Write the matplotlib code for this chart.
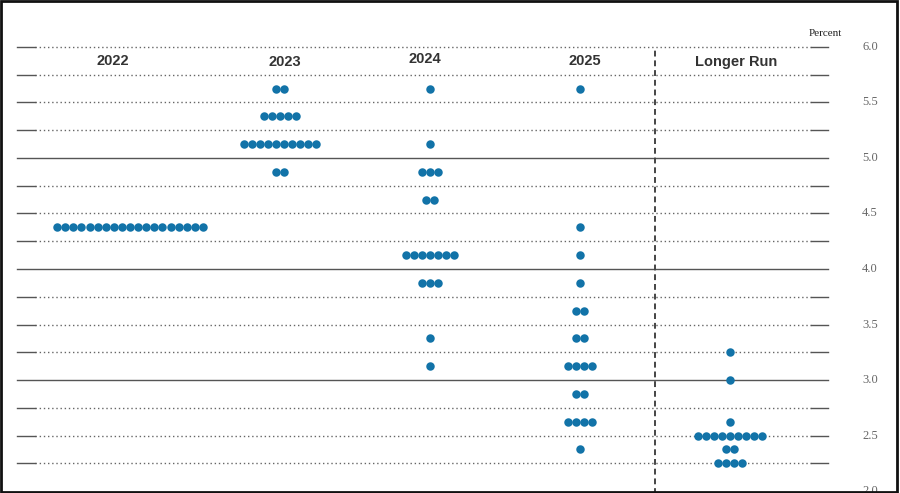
import matplotlib.pyplot as plt
from matplotlib.patches import Rectangle
import numpy as np

# columns and the (rate, count) pairs for each one
columns = ["2022", "2023", "2024", "2025", "Longer Run"]
rates_2022 = [4.375]
counts_2022 = [19]
rates_2023 = [5.625, 5.375, 5.125, 4.875]
counts_2023 = [2, 5, 10, 2]
rates_2024 = [5.625, 5.125, 4.875, 4.625, 4.125, 3.875, 3.375, 3.125]
counts_2024 = [1, 1, 3, 2, 7, 3, 1, 1]
rates_2025 = [5.625, 4.375, 4.125, 3.875, 3.625, 3.375, 3.125, 2.875, 2.625, 2.375]
counts_2025 = [1, 1, 1, 1, 2, 2, 4, 2, 4, 1]
rates_lr = [3.25, 3.0, 2.625, 2.5, 2.375, 2.25]
counts_lr = [1, 1, 1, 9, 2, 4]
tick_values = [2.0, 2.5, 3.0, 3.5, 4.0, 4.5, 5.0, 5.5, 6.0]

dots = [(rates_2022, counts_2022), (rates_2023, counts_2023),
        (rates_2024, counts_2024), (rates_2025, counts_2025),
        (rates_lr, counts_lr)]

DOT = "#1273a8"
GRID = "#555555"

fig = plt.figure(figsize=(9, 4.93), dpi=100)
ax = fig.add_axes([0, 0, 1, 1])
ax.set_xlim(-0.8667, 5.1333)
ax.set_ylim(1.982, 6.4234)
ax.axis("off")

step = 8.1 / 150  # dot spacing in column units

# horizontal guides (the 2.0 line falls off the bottom of the image)
x_l0, x_l1 = (17 - 130) / 150, (35 - 130) / 150
x_r0, x_r1 = (811 - 130) / 150, (828 - 130) / 150
for v in np.arange(2.25, 6.01, 0.25):
    if v in (3.0, 4.0, 5.0):
        ax.plot([x_l0, x_r1], [v, v], color=GRID, lw=1.0, zorder=1)
    else:
        ax.plot([x_l1, x_r0], [v, v], color="#666666", lw=1.0, ls=(0, (1, 2)), zorder=1)
        ax.plot([x_l0, x_l1], [v, v], color=GRID, lw=1.0, zorder=1)
        ax.plot([x_r0, x_r1], [v, v], color=GRID, lw=1.0, zorder=1)

# separator before the longer run
ax.plot([3.5, 3.5], [1.9, 6.0], color="#444444", lw=1.4, ls=(0, (3, 2)), zorder=1)

for i, (rates, counts) in enumerate(dots):
    for r, n in zip(rates, counts):
        xs = i + (np.arange(n) - (n - 1) / 2) * step
        ax.plot(xs, [r] * n, "o", color=DOT, ms=6.1, mec="none", zorder=3)

# column headers
header_x = [-0.113, 1.033, 1.967, 3.033, 4.04]
header_y = [5.87, 5.865, 5.89, 5.87, 5.865]
for name, hx, hy in zip(columns, header_x, header_y):
    ax.text(hx, hy, name, ha="center", va="center", fontsize=10.5,
            fontweight="bold", family="Liberation Sans", color="#333333")

# right-hand scale
for v in tick_values:
    ax.text((870 - 130) / 150, v, "%.1f" % v, ha="center", va="center",
            fontsize=9, family="Liberation Serif", color="#666666")
ax.text((825 - 130) / 150, 6.12, "Percent", ha="center", va="center",
        fontsize=8, family="Liberation Serif", color="#222222")

fig.patches.append(Rectangle((0.001, 0.002), 0.996, 0.996, transform=fig.transFigure,
                             fill=False, edgecolor="#111111", lw=2))

fig.savefig("out.png", dpi=100)
